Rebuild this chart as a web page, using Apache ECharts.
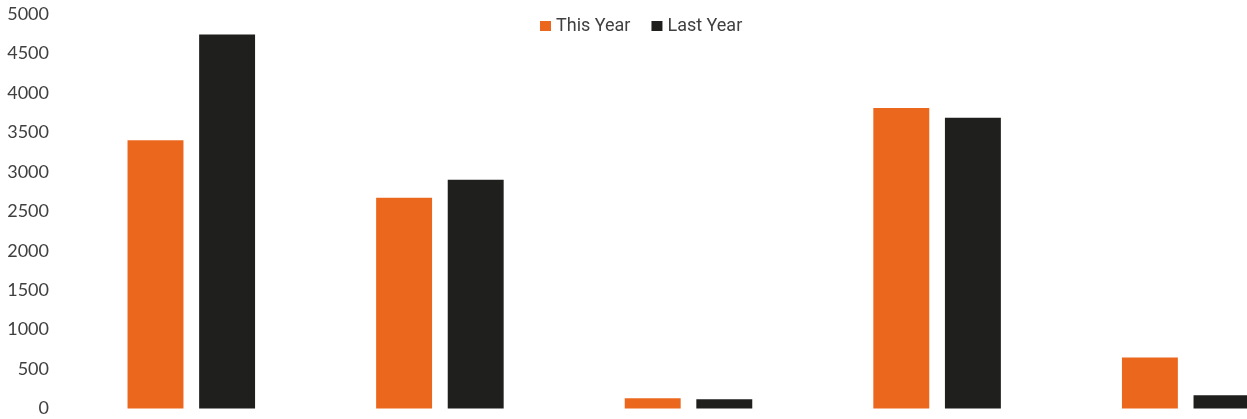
<!DOCTYPE html>
<html>
<head>
<meta charset="utf-8">
<script src="https://cdn.jsdelivr.net/npm/echarts@6/dist/echarts.min.js"></script>
<style>
  html, body { margin: 0; padding: 0; background: #fff; }
  #chart { width: 1247px; height: 419px; }
</style>
</head>
<body>
<div id="chart"></div>
<script>
// category names are not visible in the picture (cropped below the axis)
const categories = ['A', 'B', 'C', 'D', 'E'];
const thisYear = [3400, 2670, 130, 3810, 645];
const lastYear = [4740, 2900, 118, 3685, 168];
const yTicks = { min: 0, max: 5000, interval: 500 };

let myChart = echarts.init(document.getElementById('chart'));
myChart.setOption({
  animation: false,
  textStyle: { fontFamily: 'Lato, "Open Sans", sans-serif' },
  legend: {
    data: ['This Year', 'Last Year'],
    top: 17,
    left: 540,
    padding: 0,
    icon: 'rect',
    itemWidth: 11,
    itemHeight: 10,
    itemGap: 21,
    textStyle: { fontSize: 18, color: '#404040', fontFamily: 'Roboto, sans-serif' }
  },
  // the plot runs past the right edge of the picture
  grid: {
    left: 67,
    right: -63,
    top: 14,
    bottom: 10.5,
    containLabel: false,
    outerBoundsMode: 'none'
  },
  xAxis: {
    type: 'category',
    data: categories,
    axisLine: { show: false },
    axisTick: { show: false },
    axisLabel: { show: false }
  },
  yAxis: {
    type: 'value',
    min: yTicks.min,
    max: yTicks.max,
    interval: yTicks.interval,
    splitLine: { show: false },
    axisLine: { show: false },
    axisTick: { show: false },
    axisLabel: {
      fontSize: 18,
      color: '#404040',
      margin: 18,
      formatter: v => String(v)
    }
  },
  series: [
    {
      name: 'This Year',
      type: 'bar',
      data: thisYear,
      barWidth: '22.5%',
      barGap: '28%',
      itemStyle: { color: '#EC671E' }
    },
    {
      name: 'Last Year',
      type: 'bar',
      data: lastYear,
      barWidth: '22.5%',
      itemStyle: { color: '#1F1F1D' }
    }
  ]
});
</script>
</body>
</html>
